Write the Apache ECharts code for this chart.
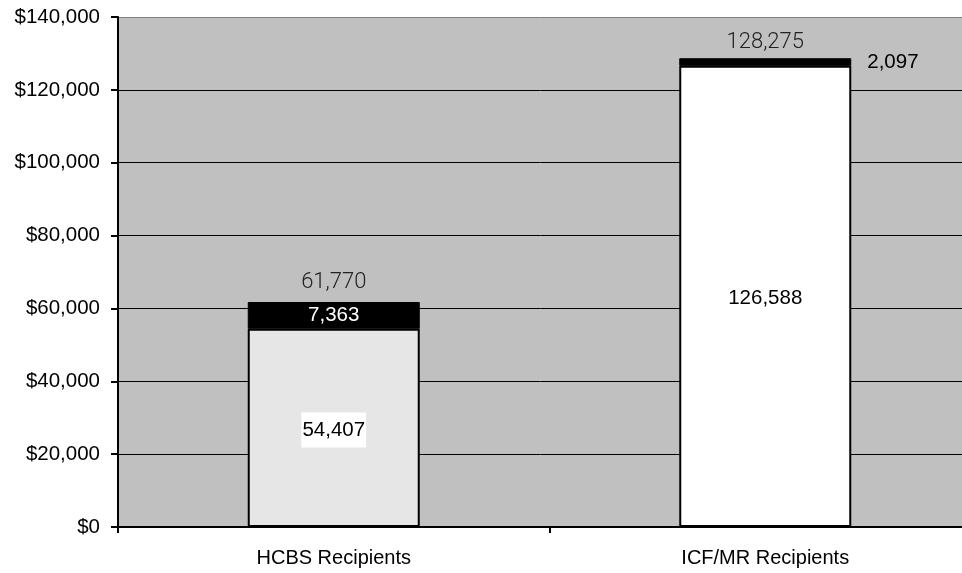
<!DOCTYPE html>
<html>
<head>
<meta charset="utf-8">
<script src="https://cdn.jsdelivr.net/npm/echarts@6/dist/echarts.min.js"></script>
<style>html,body{margin:0;padding:0;background:#fff;}#c{width:962px;height:573px;}</style>
</head>
<body>
<div id="c"></div>
<script>
var categories = ['HCBS Recipients', 'ICF/MR Recipients'];
var baseValues = [54407, 126588];
var topValues = [7363, 2097];
var totals = [61770, 128275];
var yTicks = [0, 20000, 40000, 60000, 80000, 100000, 120000, 140000];

function fmt(v) { return v.toLocaleString('en-US'); }

var AR = 'Liberation Sans, Arial, sans-serif';
var chart = echarts.init(document.getElementById('c'), null, {renderer: 'canvas'});
chart.setOption({
  animation: false,
  backgroundColor: '#ffffff',
  grid: {left: 118, top: 17, width: 863, bottom: 46, show: true, backgroundColor: '#c0c0c0', borderWidth: 0,
    outerBoundsMode: 'none', containLabel: false},
  xAxis: {
    type: 'category', data: categories,
    axisLine: {lineStyle: {color: '#000', width: 2}},
    axisTick: {show: true, length: 6, lineStyle: {color: '#000', width: 2}},
    axisLabel: {color: '#000', fontFamily: AR, fontSize: 20, margin: 21}
  },
  yAxis: {
    type: 'value', min: yTicks[0], max: yTicks[yTicks.length - 1], interval: 20000,
    axisLine: {show: true, lineStyle: {color: '#000', width: 2}},
    axisTick: {show: true, length: 7, lineStyle: {color: '#000', width: 2}},
    splitLine: {show: true, lineStyle: {color: ['#000', '#000', '#000', '#000', '#000', '#000', '#000', '#808080'], width: 1}},
    axisLabel: {color: '#000', fontFamily: AR, fontSize: 20.5, margin: 18,
      formatter: function (v) { return '$' + fmt(v); }}
  },
  series: [
    {
      type: 'bar', stack: 's', barWidth: 172,
      data: baseValues.map(function (v, i) {
        return {value: v, itemStyle: {color: i === 0 ? '#e6e6e6' : '#ffffff'},
          label: i === 0 ? {backgroundColor: '#fff', padding: [7, 1, 7, 1]} : {}};
      }),
      itemStyle: {borderColor: '#000', borderWidth: 2},
      label: {show: true, position: 'inside', offset: [0, 2], color: '#000', fontFamily: AR, fontSize: 20.5,
        formatter: function (p) { return fmt(p.value); }}
    },
    {
      type: 'bar', stack: 's', barWidth: 172,
      data: topValues.map(function (v, i) {
        return {value: v, label: i === 0 ?
          {position: 'inside', color: '#fff'} :
          {position: 'right', distance: 16, color: '#000'}};
      }),
      itemStyle: {color: '#000', borderColor: '#000', borderWidth: 1},
      label: {show: true, fontFamily: AR, fontSize: 20.5,
        formatter: function (p) { return fmt(p.value); }}
    },
    {
      type: 'bar', stack: 's', barWidth: 172,
      data: totals.map(function (v, i) { return {value: 0, label: i === 1 ? {offset: [0, 3]} : {}}; }),
      itemStyle: {color: 'transparent'},
      label: {show: true, position: 'top', distance: 8, color: '#222', fontFamily: 'Roboto', fontWeight: 300, fontSize: 22,
        formatter: function (p) { return fmt(totals[p.dataIndex]); }}
    }
  ]
});
</script>
</body>
</html>
